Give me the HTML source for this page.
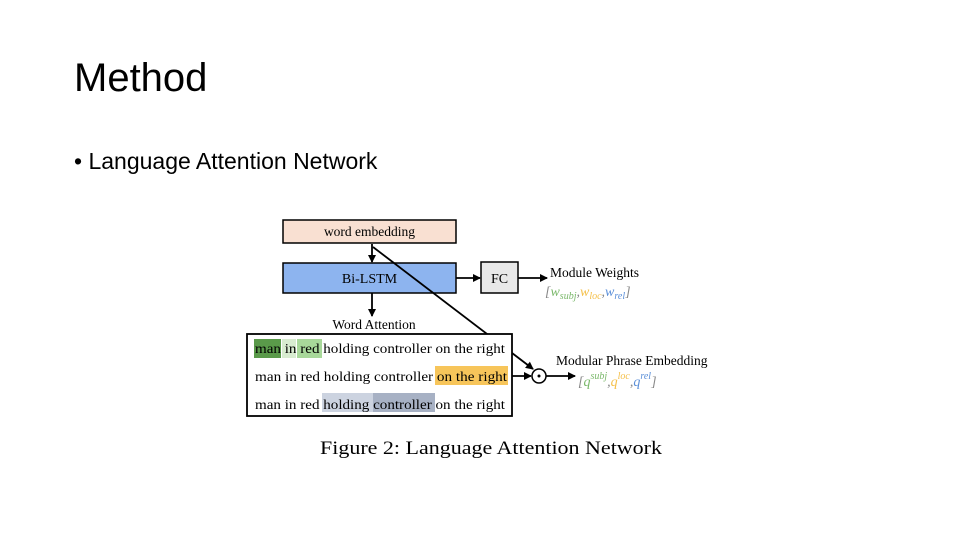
<!DOCTYPE html>
<html><head><meta charset="utf-8"><style>
body{margin:0;width:960px;height:540px;background:#fff;overflow:hidden;position:relative;font-family:"Liberation Sans",sans-serif}
.t{position:absolute;left:74px;top:56px;font-size:40px;color:#000}
.b{position:absolute;left:74px;top:148px;font-size:23px;color:#000}
svg{position:absolute;left:0;top:0}
</style></head><body>
<div class="t">Method</div>
<div class="b">• Language Attention Network</div>
<svg width="960" height="540" font-family="Liberation Serif, serif">
<defs><marker id="a" markerWidth="8" markerHeight="8" refX="7" refY="4" orient="auto" markerUnits="userSpaceOnUse"><path d="M0,0 L8,4 L0,8z" fill="#000"/></marker></defs>
<rect x="283" y="220" width="173" height="23" fill="#f9e0d2" stroke="#000" stroke-width="1.5"/>
<text x="369.5" y="236" font-size="13.5" text-anchor="middle">word embedding</text>
<rect x="283" y="263" width="173" height="30" fill="#8db4ef" stroke="#000" stroke-width="1.5"/>
<text x="369.5" y="283" font-size="14" text-anchor="middle">Bi-LSTM</text>
<rect x="481" y="262" width="37" height="31" fill="#e8e8e8" stroke="#000" stroke-width="1.5"/>
<text x="499.5" y="283" font-size="14" text-anchor="middle">FC</text>
<line x1="372" y1="244" x2="372" y2="262" stroke="#000" stroke-width="1.8" marker-end="url(#a)"/>
<line x1="372" y1="293" x2="372" y2="316" stroke="#000" stroke-width="1.8" marker-end="url(#a)"/>
<line x1="456" y1="278" x2="480" y2="278" stroke="#000" stroke-width="1.8" marker-end="url(#a)"/>
<line x1="518" y1="278" x2="547" y2="278" stroke="#000" stroke-width="1.8" marker-end="url(#a)"/>
<line x1="373" y1="247" x2="533" y2="369" stroke="#000" stroke-width="1.8" marker-end="url(#a)"/>
<text x="550" y="277" font-size="13.5">Module Weights</text>
<text x="545" y="296" font-size="14" font-style="italic"><tspan fill="#888">[</tspan><tspan fill="#7ab86a">w<tspan font-size="10" dy="3">subj</tspan></tspan><tspan dy="-3" fill="#888">,</tspan><tspan fill="#f5c04a">w<tspan font-size="10" dy="3">loc</tspan></tspan><tspan dy="-3" fill="#888">,</tspan><tspan fill="#5b8fd8">w<tspan font-size="10" dy="3">rel</tspan></tspan><tspan dy="-3" fill="#888">]</tspan></text>
<text x="374" y="329" font-size="13.5" text-anchor="middle">Word Attention</text>
<rect x="247" y="334" width="265" height="82" fill="#fff" stroke="#000" stroke-width="1.8"/>
<rect x="254" y="339" width="27" height="19" fill="#5a9a4a"/>
<rect x="282" y="339" width="14" height="19" fill="#d8ecd0"/>
<rect x="297" y="339" width="25" height="19" fill="#a8d89a"/>
<rect x="435" y="366" width="73" height="19" fill="#f7c55a"/>
<rect x="322" y="393" width="51" height="19" fill="#ccd3e0"/>
<rect x="373" y="393" width="62" height="19" fill="#a7b1c4"/>
<g font-size="13.5">
<text x="255" y="353" textLength="250" lengthAdjust="spacingAndGlyphs">man in red holding controller on the right</text>
<text x="255" y="381" textLength="252" lengthAdjust="spacingAndGlyphs">man in red holding controller on the right</text>
<text x="255" y="409" textLength="250" lengthAdjust="spacingAndGlyphs">man in red holding controller on the right</text>
</g>
<line x1="512" y1="376" x2="531" y2="376" stroke="#000" stroke-width="1.8" marker-end="url(#a)"/>
<circle cx="539" cy="376" r="7" fill="#fff" stroke="#000" stroke-width="1.5"/>
<circle cx="539" cy="376" r="1.5" fill="#000"/>
<line x1="546" y1="376" x2="575" y2="376" stroke="#000" stroke-width="1.8" marker-end="url(#a)"/>
<text x="556" y="365" font-size="13.5">Modular Phrase Embedding</text>
<text x="578" y="386" font-size="14" font-style="italic"><tspan fill="#888">[</tspan><tspan fill="#7ab86a">q<tspan font-size="10" dy="-7">subj</tspan></tspan><tspan dy="7" fill="#888">,</tspan><tspan fill="#f5c04a">q<tspan font-size="10" dy="-7">loc</tspan></tspan><tspan dy="7" fill="#888">,</tspan><tspan fill="#5b8fd8">q<tspan font-size="10" dy="-7">rel</tspan></tspan><tspan dy="7" fill="#888">]</tspan></text>
<text x="320" y="454" font-size="19" textLength="342" lengthAdjust="spacingAndGlyphs">Figure 2: Language Attention Network</text>
</svg>
</body></html>
